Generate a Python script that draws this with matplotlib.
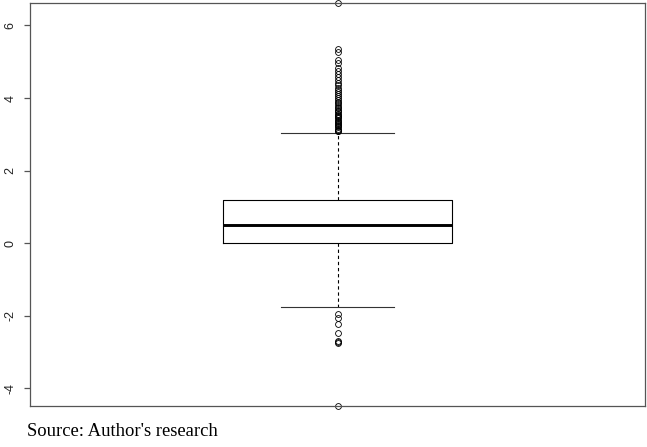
import matplotlib
matplotlib.use("Agg")
from matplotlib import pyplot as plt

# box summary
q1 = 0.0
med = 0.51
q3 = 1.2
whisker_lo = -1.75
whisker_hi = 3.03

upper_out = [3.08, 3.10, 3.13, 3.16, 3.19, 3.22, 3.25, 3.28, 3.31, 3.34, 3.37,
             3.40, 3.44, 3.47, 3.50, 3.54, 3.57, 3.61, 3.64, 3.68, 3.72, 3.76,
             3.80, 3.85, 3.90, 3.95, 4.00, 4.05, 4.10, 4.16, 4.22, 4.28, 4.35,
             4.42, 4.50, 4.58, 4.66, 4.74, 4.82, 4.97, 5.06, 5.27, 5.36, 6.62]
lower_out = [-1.96, -2.06, -2.24, -2.49, -2.71, -2.73, -2.74, -4.5]

yticks = [-4, -2, 0, 2, 4, 6]

fig = plt.figure(figsize=(6.47, 4.47), dpi=100)
ax = fig.add_axes([30 / 647, 1 - 406 / 447, 615 / 647, 403 / 447])

stats = [{"med": med, "q1": q1, "q3": q3, "whislo": whisker_lo,
          "whishi": whisker_hi, "fliers": upper_out + lower_out}]

ax.bxp(stats, positions=[1], widths=0.372, showfliers=True,
       boxprops=dict(color="black", linewidth=0.8),
       medianprops=dict(color="black", linewidth=2.1),
       whiskerprops=dict(color="black", linewidth=0.8, linestyle=(0, (3, 2.5))),
       capprops=dict(color="#333333", linewidth=0.8),
       capwidths=0.184,
       flierprops=dict(marker="o", markersize=4.2, markerfacecolor="none",
                       markeredgecolor="black", markeredgewidth=0.6,
                       clip_on=False))

ax.set_xlim(0.5, 1.5)
ax.set_ylim(-4.49, 6.62)
ax.set_xticks([])
ax.set_yticks(yticks)
ax.set_yticklabels([str(t) for t in yticks], rotation=90, va="center",
                   fontsize=9, family="Liberation Sans", color="#222222")
ax.tick_params(axis="y", length=4.5, width=0.9, color="#555555", pad=5)
for s in ax.spines.values():
    s.set_color("#555555")
    s.set_linewidth(0.9)

fig.text(27 / 647, 1 - 431 / 447, "Source: Author's research",
         family="Liberation Serif", fontsize=13.4, va="center", ha="left")

fig.savefig("out.png", dpi=100)
